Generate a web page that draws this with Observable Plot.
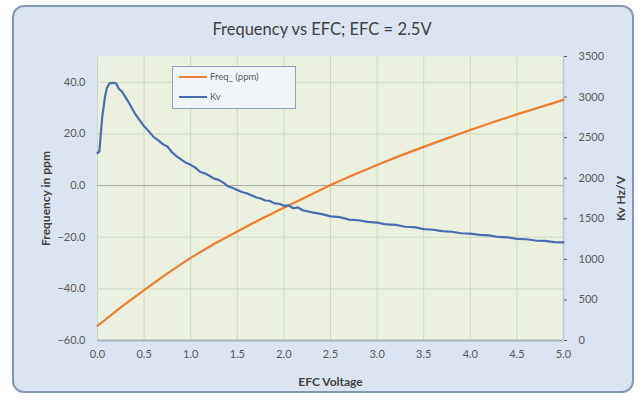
<!DOCTYPE html>
<html>
<head>
<meta charset="utf-8">
<script src="https://cdn.jsdelivr.net/npm/d3@7"></script>
<script src="https://cdn.jsdelivr.net/npm/@observablehq/plot@0.6"></script>
<style>
  html, body { margin: 0; padding: 0; background: #ffffff; }
  #wrap { position: relative; width: 644px; height: 400px; font-family: Lato, "Open Sans", sans-serif; }
  #panel { position: absolute; left: 12px; top: 5px; width: 618px; height: 384px; background: #dbe5f1; border: 2px solid #8497b0; border-radius: 12px; }
  #title { position: absolute; left: 0; top: 0; width: 644px; height: 44px; text-align: center; line-height: 58px; font-size: 16.5px; color: #404040; }
  #chart { position: absolute; left: 0; top: 44px; }
  #legend { position: absolute; left: 172px; top: 66px; width: 122px; height: 41px; background: #f1f5fa; border: 1.5px solid #8aa0c4; font-size: 9.5px; color: #595959; }
  .lg { position: absolute; left: 6px; display: flex; align-items: center; }
  .sw { width: 28px; height: 2px; margin-right: 3px; }
</style>
</head>
<body>
<div id="wrap">
  <div id="panel"></div>
  <div id="title">Frequency vs EFC; EFC = 2.5V</div>
  <div id="chart"></div>
  <div id="legend">
    <div class="lg" style="top:4px"><div class="sw" style="background:#ed7d31"></div>Freq_ (ppm)</div>
    <div class="lg" style="top:24px"><div class="sw" style="background:#4a6cb3"></div>Kv</div>
  </div>
</div>
<script>
// EFC voltage for frequency series
const freqV = [0, 0.25, 0.5, 0.75, 1.0, 1.25, 1.5, 1.75, 2.0, 2.25, 2.5, 2.75, 3.0, 3.25, 3.5, 3.75, 4.0, 4.25, 4.5, 4.75, 5.0];
const freqPpm = [-54.3, -47.2, -40.5, -34.0, -28.0, -22.6, -17.8, -13.0, -8.6, -4.2, 0.2, 4.2, 8.0, 11.6, 15.0, 18.3, 21.5, 24.6, 27.6, 30.4, 33.2];

// EFC voltage for Kv series
const kvV = [0, 0.02, 0.05, 0.08, 0.10, 0.13, 0.16, 0.20, 0.23, 0.26, 0.30, 0.34, 0.40, 0.45, 0.50, 0.55, 0.60, 0.65, 0.70, 0.75, 0.80, 0.85, 0.90, 0.95, 1.00, 1.05, 1.10, 1.15, 1.20, 1.25, 1.30, 1.35, 1.40, 1.45, 1.50, 1.55, 1.60, 1.65, 1.70, 1.75, 1.80, 1.85, 1.90, 1.95, 2.00, 2.05, 2.10, 2.15, 2.20, 2.30, 2.40, 2.50, 2.60, 2.70, 2.80, 2.90, 3.00, 3.10, 3.20, 3.30, 3.40, 3.50, 3.60, 3.70, 3.80, 3.90, 4.00, 4.10, 4.20, 4.30, 4.40, 4.50, 4.60, 4.70, 4.80, 4.90, 5.00];
const kvHz = [2310, 2330, 2750, 3000, 3110, 3170, 3175, 3170, 3100, 3070, 3000, 2925, 2800, 2720, 2640, 2580, 2510, 2470, 2420, 2390, 2320, 2270, 2230, 2190, 2165, 2130, 2080, 2060, 2030, 1995, 1980, 1945, 1900, 1880, 1855, 1830, 1815, 1790, 1765, 1750, 1725, 1720, 1690, 1685, 1660, 1665, 1630, 1640, 1605, 1580, 1560, 1530, 1520, 1490, 1482, 1462, 1452, 1430, 1424, 1402, 1398, 1372, 1365, 1348, 1340, 1322, 1318, 1302, 1295, 1276, 1272, 1252, 1248, 1232, 1228, 1212, 1210];

const xTicks = [0, 0.5, 1.0, 1.5, 2.0, 2.5, 3.0, 3.5, 4.0, 4.5, 5.0];
const leftTicks = [-60, -40, -20, 0, 20, 40];
const rightTicks = [0, 500, 1000, 1500, 2000, 2500, 3000, 3500];

const yMin = -60, yMax = 50, kMax = 3500;
const k2y = k => yMin + k * (yMax - yMin) / kMax;
const y2k = y => (y - yMin) * kMax / (yMax - yMin);

const freqData = freqV.map((v, i) => ({v, f: freqPpm[i]}));
const kvData = kvV.map((v, i) => ({v, k: k2y(kvHz[i])}));

const chart = Plot.plot({
  width: 644,
  height: 356,
  marginLeft: 97,
  marginRight: 81,
  marginTop: 12,
  marginBottom: 60,
  style: {background: "transparent", fontFamily: "Lato, 'Open Sans', sans-serif", fontSize: "11px", color: "#595959"},
  x: {domain: [0, 5]},
  y: {domain: [yMin, yMax]},
  marks: [
    Plot.frame({fill: "#ebf1de", stroke: null}),
    Plot.gridX(xTicks, {stroke: "#cdd8bf", strokeOpacity: 1}),
    Plot.gridY(leftTicks.filter(d => d !== 0), {stroke: "#cdd8bf", strokeOpacity: 1}),
    Plot.ruleY([0], {stroke: "#a6a6a6", strokeWidth: 1}),
    Plot.ruleY([yMin], {stroke: "#a9b4c2", strokeWidth: 2}),
    Plot.ruleX([5], {stroke: "#b8c6dc", strokeWidth: 1.5}),
    Plot.axisX(xTicks, {tickSize: 0, tickPadding: 10, tickFormat: d3.format(".1f"), label: "EFC Voltage", labelAnchor: "center", labelArrow: "none", labelOffset: 45, fill: "#595959", fontSize: 11}),
    Plot.axisY(leftTicks, {anchor: "left", tickSize: 0, tickPadding: 12, tickFormat: d3.format(".1f"), label: "Frequency in ppm", labelAnchor: "center", labelArrow: "none", labelOffset: 56, fontSize: 11}),
    Plot.axisY(rightTicks.map(k2y), {anchor: "right", tickSize: 3, tickPadding: 12, tickFormat: d => String(Math.round(y2k(d))), label: "Kv Hz/V", labelAnchor: "center", labelArrow: "none", labelOffset: 61, fontSize: 11}),
    Plot.line(freqData, {x: "v", y: "f", stroke: "#ed7d31", strokeWidth: 2.2}),
    Plot.line(kvData, {x: "v", y: "k", stroke: "#4a6cb3", strokeWidth: 2.2})
  ]
});
document.getElementById("chart").appendChild(chart);

// bold axis labels like the reference
chart.querySelectorAll("g[aria-label='x-axis label'] text, g[aria-label='y-axis label'] text").forEach(t => {
  t.style.fontWeight = "bold";
  t.style.fill = "#404040";
  t.style.fontSize = "12px";
});
</script>
</body>
</html>
